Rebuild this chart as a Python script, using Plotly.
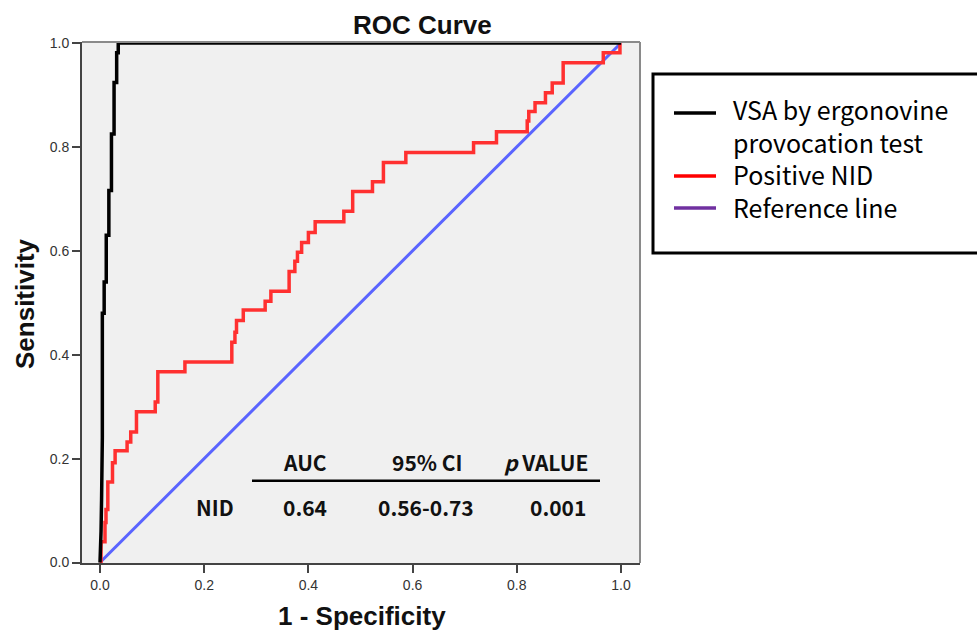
import plotly.graph_objects as go

# ---- data ----
nid_fpr = [0.0, 0.002, 0.002, 0.0096, 0.0096, 0.0115, 0.0115, 0.015, 0.015, 0.024, 0.024, 0.029, 0.029,
           0.052, 0.052, 0.059, 0.059, 0.070, 0.070, 0.106, 0.106, 0.111, 0.111, 0.163, 0.163,
           0.253, 0.253, 0.259, 0.259, 0.262, 0.262, 0.275, 0.275, 0.317, 0.317, 0.328, 0.328,
           0.363, 0.363, 0.374, 0.374, 0.379, 0.379, 0.387, 0.387, 0.400, 0.400, 0.413, 0.413,
           0.468, 0.468, 0.485, 0.485, 0.523, 0.523, 0.544, 0.544, 0.587, 0.587, 0.717, 0.717,
           0.761, 0.761, 0.820, 0.820, 0.823, 0.823, 0.835, 0.835, 0.855, 0.855, 0.868, 0.868,
           0.889, 0.889, 0.966, 0.966, 0.998, 0.998, 1.0]
nid_tpr = [0.0, 0.0, 0.040, 0.040, 0.077, 0.077, 0.102, 0.102, 0.155, 0.155, 0.192, 0.192, 0.215,
           0.215, 0.232, 0.232, 0.251, 0.251, 0.290, 0.290, 0.309, 0.309, 0.367, 0.367, 0.386,
           0.386, 0.424, 0.424, 0.443, 0.443, 0.466, 0.466, 0.486, 0.486, 0.503, 0.503, 0.522,
           0.522, 0.560, 0.560, 0.580, 0.580, 0.597, 0.597, 0.616, 0.616, 0.635, 0.635, 0.656,
           0.656, 0.676, 0.676, 0.714, 0.714, 0.733, 0.733, 0.770, 0.770, 0.789, 0.789, 0.808,
           0.808, 0.829, 0.829, 0.850, 0.850, 0.868, 0.868, 0.885, 0.885, 0.904, 0.904, 0.923,
           0.923, 0.962, 0.962, 0.981, 0.981, 1.0, 1.0]
vsa_fpr = [0.0, 0.001, 0.002, 0.003, 0.004, 0.0045, 0.0045, 0.008, 0.008, 0.012, 0.012, 0.017, 0.017,
           0.022, 0.022, 0.027, 0.027, 0.032, 0.032, 0.035, 0.035, 1.0]
vsa_tpr = [0.0, 0.02, 0.06, 0.12, 0.18, 0.24, 0.48, 0.48, 0.54, 0.54, 0.63, 0.63, 0.716,
           0.716, 0.825, 0.825, 0.924, 0.924, 0.981, 0.981, 1.0, 1.0]
ref_x = [0.0, 1.0]
ref_y = [0.0, 1.0]

tick_vals = [0.0, 0.2, 0.4, 0.6, 0.8, 1.0]
tick_text = ["0.0", "0.2", "0.4", "0.6", "0.8", "1.0"]

table_header = ["AUC", "95% CI", "<i>p</i> VALUE"]
table_row_label = "NID"
table_values = ["0.64", "0.56-0.73", "0.001"]

legend_lines = ["VSA by ergonovine", "provocation test", "Positive NID", "Reference line"]
legend_colors = ["#000000", "#ff0000", "#7030a0"]

# ---- figure ----
W, H = 977, 632
L, R, T, B = 82, 640, 42, 563
fig = go.Figure()

fig.add_trace(go.Scatter(x=ref_x, y=ref_y, mode="lines",
                         line=dict(color="#5a64ff", width=3), showlegend=False))
fig.add_trace(go.Scatter(x=nid_fpr, y=nid_tpr, mode="lines",
                         line=dict(color="#ff3030", width=3.5), showlegend=False))
fig.add_trace(go.Scatter(x=vsa_fpr, y=vsa_tpr, mode="lines",
                         line=dict(color="#000000", width=3.5), showlegend=False))

def px2x(px):
    return (px - 100) / 521.0

def py2y(py):
    return (563 - py) / 521.0

def ppx(px):
    return (px - L) / (R - L)

def ppy(py):
    return (B - py) / (B - T)

# table
tfont = dict(family="Noto Sans CJK KR", size=21, color="#111111")
hdr_x = [305, 427, 546]
for txt, cx in zip(table_header, hdr_x):
    fig.add_annotation(x=px2x(cx), y=py2y(462), xref="x", yref="y", text="<b>" + txt + "</b>",
                       showarrow=False, font=tfont, xanchor="center", yanchor="middle")
fig.add_annotation(x=px2x(215), y=py2y(507), xref="x", yref="y", text="<b>" + table_row_label + "</b>",
                   showarrow=False, font=tfont, xanchor="center", yanchor="middle")
val_x = [305, 426, 558]
for txt, cx in zip(table_values, val_x):
    fig.add_annotation(x=px2x(cx), y=py2y(507), xref="x", yref="y", text="<b>" + txt + "</b>",
                       showarrow=False, font=tfont, xanchor="center", yanchor="middle")
fig.add_shape(type="line", xref="x", yref="y", x0=px2x(252), x1=px2x(600), y0=py2y(481), y1=py2y(481),
              line=dict(color="#000000", width=2.5))

# frame top/right
fig.add_shape(type="line", xref="paper", yref="paper", x0=0, x1=1, y0=1, y1=1,
              line=dict(color="#8a8a8a", width=2))
fig.add_shape(type="line", xref="paper", yref="paper", x0=1, x1=1, y0=0, y1=1,
              line=dict(color="#8a8a8a", width=2))

# manual legend
fig.add_shape(type="rect", xref="paper", yref="paper", x0=ppx(653), x1=ppx(1000), y0=ppy(253), y1=ppy(74),
              line=dict(color="#000000", width=3), fillcolor="rgba(255,255,255,0)")
leg_rows = [113, 176, 208]
for col, yy in zip(legend_colors, leg_rows):
    fig.add_shape(type="line", xref="paper", yref="paper", x0=ppx(674), x1=ppx(716), y0=ppy(yy), y1=ppy(yy),
                  line=dict(color=col, width=3.5))
fig.add_annotation(x=ppx(731), y=ppy(158), xref="paper", yref="paper", text="<br>".join(legend_lines),
                   showarrow=False, align="left",
                   font=dict(family="Noto Sans CJK KR", size=25, color="#000000"),
                   xanchor="left", yanchor="middle")

# titles
fig.add_annotation(x=ppx(422), y=ppy(25), xref="paper", yref="paper", text="<b>ROC Curve</b>",
                   showarrow=False, font=dict(family="Liberation Sans", size=26, color="#111111"),
                   xanchor="center", yanchor="middle")
fig.add_annotation(x=ppx(362), y=ppy(616), xref="paper", yref="paper", text="<b>1 - Specificity</b>",
                   showarrow=False, font=dict(family="Liberation Sans", size=26, color="#111111"),
                   xanchor="center", yanchor="middle")
fig.add_annotation(x=ppx(25), y=ppy(303), xref="paper", yref="paper", text="<b>Sensitivity</b>",
                   showarrow=False, textangle=-90, font=dict(family="Liberation Sans", size=26, color="#111111"),
                   xanchor="center", yanchor="middle")

axis_common = dict(tickvals=tick_vals, ticktext=tick_text, ticks="outside", ticklen=8, tickwidth=1.5,
                   tickcolor="#444444", showline=True, linecolor="#444444", linewidth=2,
                   showgrid=False, zeroline=False,
                   tickfont=dict(family="Liberation Sans", size=14, color="#333333"))
fig.update_xaxes(range=[px2x(L), px2x(R)], **axis_common)
fig.update_yaxes(range=[py2y(B + 0.5), py2y(T - 1)], **axis_common)

fig.update_layout(width=W, height=H, margin=dict(l=L, r=W - R, t=T, b=H - B, pad=0),
                  plot_bgcolor="#f0f0f0", paper_bgcolor="#ffffff", showlegend=False)

fig.write_html("out.html")
